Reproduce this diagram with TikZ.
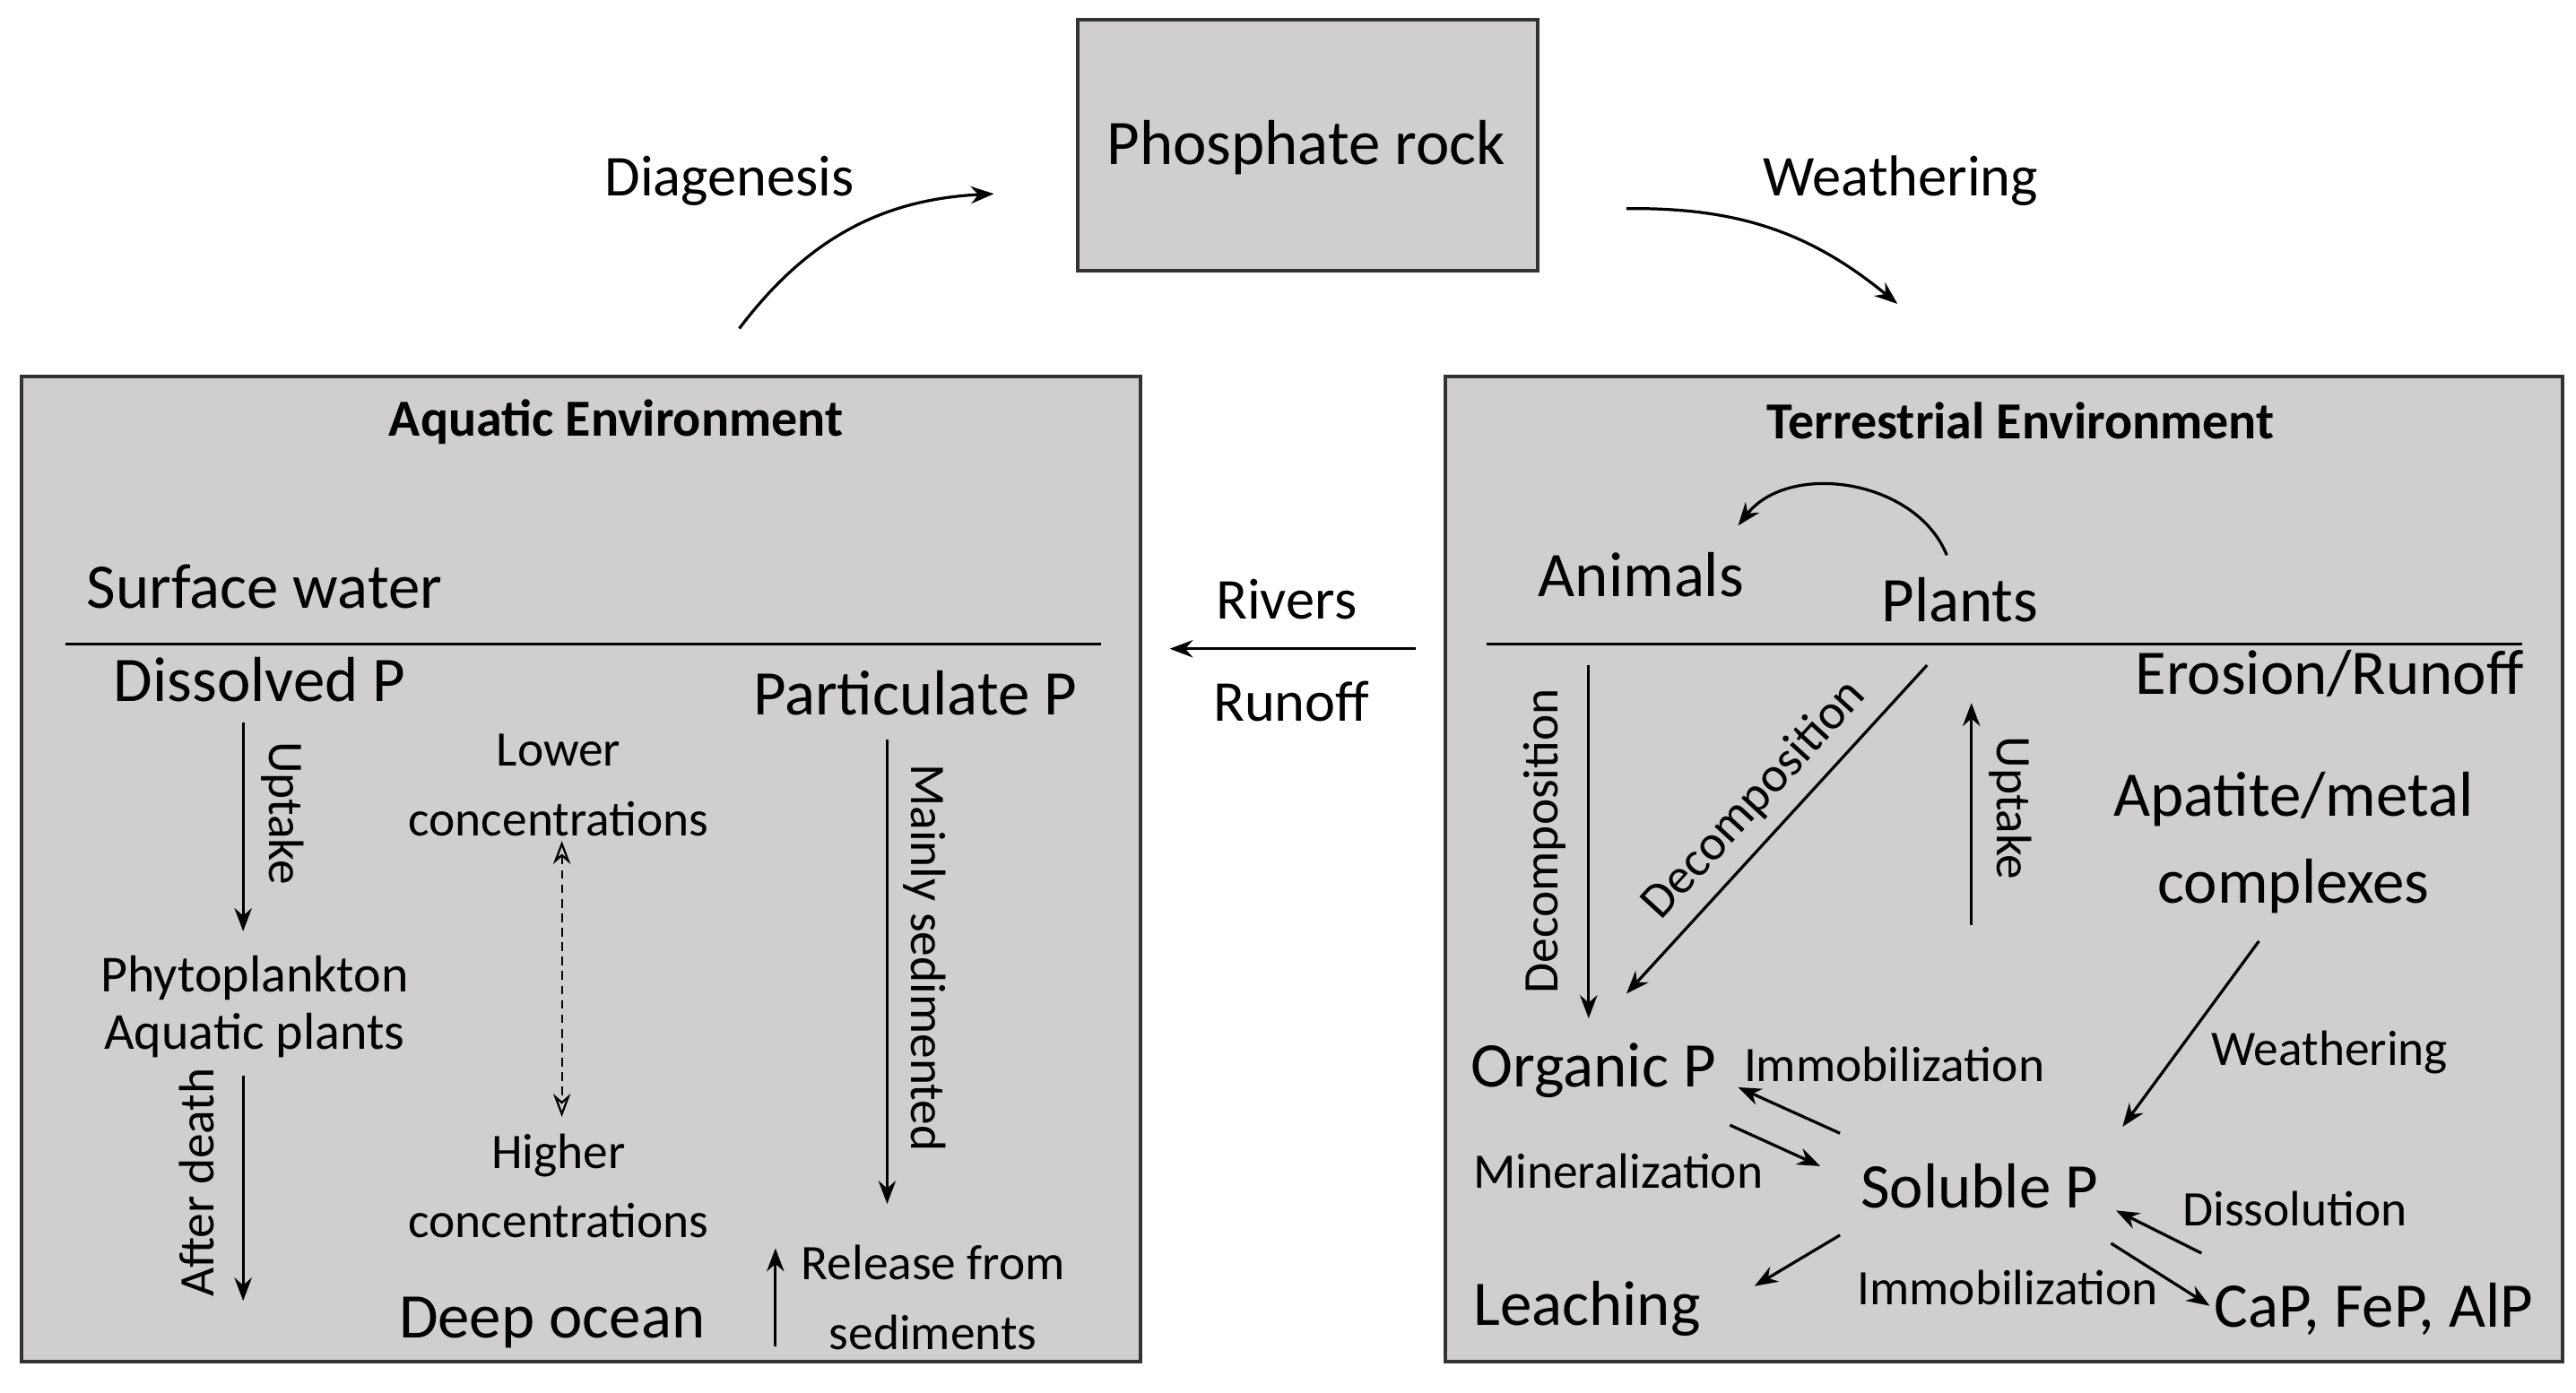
\documentclass[tikz,border=0pt]{standalone}
\usepackage{fontspec}
\setmainfont{Carlito}
\usetikzlibrary{arrows.meta}
\definecolor{boxg}{HTML}{D0CECE}
\begin{document}
\begin{tikzpicture}[x=0.01cm,y=-0.01cm,
  box/.style={draw=black!80,line width=0.6pt,fill=boxg},
  arr/.style={-{Stealth[length=4pt,width=3pt]},line width=0.5pt},
  big/.style={font=\fontsize{11}{12}\selectfont,inner sep=0pt},
  med/.style={font=\fontsize{10}{11}\selectfont,inner sep=0pt},
  sm/.style={font=\fontsize{8.6}{10}\selectfont,inner sep=0pt,align=center},
  ttl/.style={font=\bfseries\fontsize{9}{10}\selectfont,inner sep=0pt}]
\useasboundingbox (0,0) rectangle (1568,848);
% phosphate rock
\draw[box] (656,12) rectangle (936,165);
\node[big] (rock) at (795,90) {Phosphate rock};
\node[med] (diag) at (444,110) {Diagenesis};
\node[med] (weath) at (1157,110) {Weathering};
\coordinate (d1) at (450,200); \coordinate (d2) at (605,118);
\coordinate (w1) at (990,127); \coordinate (w2) at (1155,185);
\draw[arr] (d1) to[bend left=25] (d2);
\draw[arr] (w1) to[bend left=20] (w2);
% aquatic
\draw[box] (13,229) rectangle (694,829);
\node[ttl] (aqt) at (375,257) {Aquatic Environment};
\node[big] (sw) at (161,357) {Surface water};
\coordinate (l1) at (40,392); \coordinate (l2) at (670,392);
\draw[line width=0.5pt] (l1) -- (l2);
\node[big] (dp) at (158,414) {Dissolved P};
\node[sm,font=\fontsize{9}{11}\selectfont] (ph) at (155,613) {Phytoplankton\\[-1pt]Aquatic plants};
\coordinate (a1) at (148,440); \coordinate (a2) at (148,567);
\draw[arr] (a1) -- (a2);
\node[sm,rotate=-90] (upt) at (172,495) {Uptake};
\coordinate (a3) at (148,655); \coordinate (a4) at (148,792);
\draw[arr] (a3) -- (a4);
\node[sm,rotate=90] (ad) at (120,720) {After death};
\node[sm] (lc) at (340,478) {Lower\\[2pt]concentrations};
\node[sm] (hc) at (340,722) {Higher\\[2pt]concentrations};
\coordinate (c1) at (342,512); \coordinate (c2) at (342,680);
\draw[{Stealth[open,length=4pt,width=3pt]}-{Stealth[open,length=4pt,width=3pt]},dash pattern=on 1.5pt off 1pt,line width=0.35pt] (c1) -- (c2);
\node[big] (pp) at (557,422) {Particulate P};
\coordinate (p1) at (540,450); \coordinate (p2) at (540,733);
\draw[arr] (p1) -- (p2);
\node[sm,rotate=-90] (ms) at (563,583) {Mainly sedimented};
\node[big] (deep) at (336,805) {Deep ocean};
\coordinate (r1) at (472,820); \coordinate (r2) at (472,760);
\draw[arr] (r1) -- (r2);
\node[sm] (rel) at (568,790) {Release from\\[2pt]sediments};
% rivers
\node[med] (riv) at (783,365) {Rivers};
\node[med] (run) at (786,427) {Runoff};
\coordinate (v1) at (862,395); \coordinate (v2) at (712,395);
\draw[arr] (v1) -- (v2);
% terrestrial
\draw[box] (880,229) rectangle (1560,829);
\node[ttl] (tt) at (1230,256) {Terrestrial Environment};
\node[big] (anim) at (999,350) {Animals};
\node[big] (plants) at (1193,365) {Plants};
\coordinate (q1) at (1185,338); \coordinate (q2) at (1058,320);
\draw[arr] (q1) to[bend right=60] (q2);
\coordinate (t1) at (905,392); \coordinate (t2) at (1535,392);
\draw[line width=0.5pt] (t1) -- (t2);
\node[big] (er) at (1418,410) {Erosion/Runoff};
\coordinate (e1) at (967,405); \coordinate (e2) at (967,620);
\draw[arr] (e1) -- (e2);
\node[sm,rotate=90] (dec1) at (940,512) {Decomposition};
\coordinate (f1) at (1173,405); \coordinate (f2) at (990,605);
\draw[arr] (f1) -- (f2);
\node[sm,rotate=47.5] (dec2) at (1068,487) {Decomposition};
\coordinate (g1) at (1200,563); \coordinate (g2) at (1200,428);
\draw[arr] (g1) -- (g2);
\node[sm,rotate=-90] (up2) at (1224,492) {Uptake};
\node[big,align=center] (apa) at (1396,513) {Apatite/metal\\[3pt]complexes};
\coordinate (h1) at (1375,573); \coordinate (h2) at (1292,686);
\draw[arr] (h1) -- (h2);
\node[sm] (wl) at (1418,641) {Weathering};
\node[big] (org) at (970,652) {Organic P};
\node[sm] (imm1) at (1153,648) {Immobilization};
\coordinate (i1) at (1120,690); \coordinate (i2) at (1058,662);
\draw[arr] (i1) -- (i2);
\coordinate (m1) at (1053,685); \coordinate (m2) at (1108,710);
\draw[arr] (m1) -- (m2);
\node[sm] (min) at (985,713) {Mineralization};
\node[big] (sol) at (1205,722) {Soluble P};
\node[sm] (dis) at (1397,736) {Dissolution};
\coordinate (j1) at (1340,763); \coordinate (j2) at (1288,737);
\draw[arr] (j1) -- (j2);
\coordinate (k1) at (1285,757); \coordinate (k2) at (1345,795);
\draw[arr] (k1) -- (k2);
\node[sm] (imm2) at (1222,784) {Immobilization};
\node[big] (leach) at (966,797) {Leaching};
\coordinate (n1) at (1120,752); \coordinate (n2) at (1068,783);
\draw[arr] (n1) -- (n2);
\node[big] (cap) at (1445,797) {CaP, FeP, AlP};
\end{tikzpicture}
\end{document}
